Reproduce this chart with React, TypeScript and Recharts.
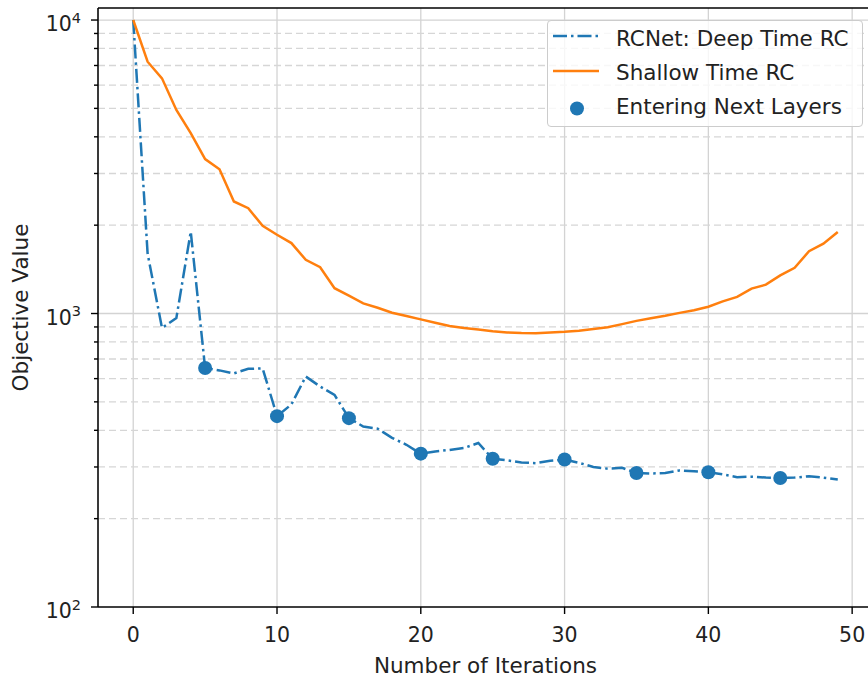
import React from 'react';
import { ComposedChart, Line, Scatter, XAxis, YAxis, CartesianGrid, ReferenceLine, Legend } from 'recharts';

const FONT = '"DejaVu Sans", sans-serif';
const BLUE = '#1f77b4';
const ORANGE = '#ff7f0e';
const TICK_FS = 20.5;
const LABEL_FS = 21.5;
const DASH = '14 4 2.5 4';

const iterations = [
  0, 1, 2, 3, 4, 5, 6, 7, 8, 9, 10, 11, 12, 13, 14, 15, 16, 17, 18, 19, 20, 21, 22, 23, 24,
  25, 26, 27, 28, 29, 30, 31, 32, 33, 34, 35, 36, 37, 38, 39, 40, 41, 42, 43, 44, 45, 46, 47, 48, 49,
];

const deepTimeRC = [
  10000, 1600, 893, 965, 1900, 652, 640, 625, 648, 650, 447, 490, 610, 564, 528, 440, 412, 405, 377, 357,
  333, 339, 343, 348, 362, 320, 316, 311, 309, 315, 318, 310, 300, 296, 298, 286, 285, 286, 292, 290,
  288, 283, 277, 278, 276, 275, 276, 279, 276, 272,
];

const shallowTimeRC = [
  10000, 7210, 6330, 4940, 4120, 3360, 3100, 2408, 2285, 1990, 1855, 1738, 1524, 1438, 1220, 1150, 1083, 1046, 1006, 980,
  955, 930, 907, 892, 882, 870, 862, 858, 857, 862, 866, 874, 885, 898, 920, 944, 964, 982, 1005, 1026,
  1055, 1100, 1139, 1216, 1254, 1349, 1432, 1630, 1730, 1897,
];

const enterIterations = [5, 10, 15, 20, 25, 30, 35, 40, 45];
const enterValues = [652, 447, 440, 333, 320, 318, 286, 288, 275];

const xTicks = [0, 10, 20, 30, 40, 50];
const yMajorTicks = [100, 1000, 10000];
const yMinorTicks = [200, 300, 400, 500, 600, 700, 800, 900, 2000, 3000, 4000, 5000, 6000, 7000, 8000, 9000];

const seriesNames = ['RCNet: Deep Time RC', 'Shallow Time RC', 'Entering Next Layers'];

const data = iterations.map((it, k) => ({ i: it, deep: deepTimeRC[k], shallow: shallowTimeRC[k] }));
const enterData = enterIterations.map((it, k) => ({ i: it, enter: enterValues[k] }));

const YTick = (props: any) => {
  const { x, y, payload } = props;
  const v = payload.value;
  const major = yMajorTicks.includes(v);
  const exp = Math.round(Math.log10(v));
  return (
    <g>
      <line x1={x - (major ? 7 : 4)} x2={x} y1={y} y2={y} stroke="#000" strokeWidth={1.4} />
      {major && (
        <text x={x - 17} y={y + 11} textAnchor="end" fontFamily={FONT} fontSize={TICK_FS} fill="#222">
          <tspan>10</tspan>
          <tspan dy={-8.5} fontSize={14.5}>{exp}</tspan>
        </text>
      )}
    </g>
  );
};

const XTick = (props: any) => {
  const { x, y, payload } = props;
  return (
    <text x={x} y={y + 28} textAnchor="middle" fontFamily={FONT} fontSize={TICK_FS} fill="#222">
      {payload.value}
    </text>
  );
};

const YLabel = (props: any) => {
  const vb = props.viewBox || { x: 8, y: 8, width: 90, height: 599 };
  const cx = vb.x + 20;
  const cy = vb.y + vb.height / 2;
  return (
    <text x={cx} y={cy} transform={`rotate(-90, ${cx}, ${cy})`} textAnchor="middle" fontFamily={FONT} fontSize={LABEL_FS} fill="#222">
      Objective Value
    </text>
  );
};

const XLabel = (props: any) => {
  const vb = props.viewBox || { x: 98, y: 607, width: 775, height: 70 };
  const cx = vb.x + vb.width / 2;
  return (
    <text x={cx} y={vb.y + 66} textAnchor="middle" fontFamily={FONT} fontSize={LABEL_FS} fill="#222">
      Number of Iterations
    </text>
  );
};

const renderLegend = () => (
  <div
    style={{
      width: 316,
      height: 107,
      boxSizing: 'border-box',
      background: 'rgba(255,255,255,0.8)',
      border: '1px solid #cccccc',
      borderRadius: 4,
      position: 'relative',
      fontFamily: FONT,
      fontSize: LABEL_FS,
      color: '#222',
    }}
  >
    <svg width={316} height={107} style={{ position: 'absolute', left: -1, top: -1 }}>
      <line x1={6} x2={52} y1={16} y2={16} stroke={BLUE} strokeWidth={2.5} strokeDasharray={DASH} />
      <line x1={6} x2={52} y1={51} y2={51} stroke={ORANGE} strokeWidth={2.5} />
      <circle cx={30} cy={88.5} r={7} fill={BLUE} />
    </svg>
    {seriesNames.map((name, k) => (
      <span
        key={name}
        style={{ position: 'absolute', left: 68, top: 5 + k * 34.2, lineHeight: '26px', whiteSpace: 'nowrap' }}
      >
        {name}
      </span>
    ))}
  </div>
);

const Dot = (props: any) => <circle cx={props.cx} cy={props.cy} r={7} fill={BLUE} />;

export default function App() {
  return (
    <div style={{ position: 'absolute', left: 0, top: 0, width: 868, height: 677, overflow: 'hidden', background: '#fff' }}>
      <ComposedChart width={874} height={677} data={data} margin={{ top: 8, right: 1, bottom: 0, left: 8 }}>
        <CartesianGrid horizontal={false} vertical stroke="#d3d3d3" strokeWidth={1.3} />
        {yMinorTicks.map((v) => (
          <ReferenceLine key={`m${v}`} y={v} stroke="#d6d6d6" strokeWidth={1.3} strokeDasharray="7 4" />
        ))}
        {yMajorTicks.slice(1).map((v) => (
          <ReferenceLine key={`M${v}`} y={v} stroke="#d3d3d3" strokeWidth={1.3} />
        ))}
        <ReferenceLine y={10990} stroke="#000" strokeWidth={1.5} />
        <XAxis
          dataKey="i"
          type="number"
          domain={[-2.45, 51.45]}
          ticks={xTicks}
          interval={0}
          allowDataOverflow
          height={70}
          tickSize={7}
          tickMargin={0}
          tickLine={{ stroke: '#000', strokeWidth: 1.4 }}
          axisLine={{ stroke: '#000', strokeWidth: 1.5 }}
          tick={<XTick />}
          label={<XLabel />}
        />
        <YAxis
          type="number"
          scale="log"
          domain={[100, 10990]}
          ticks={[...yMajorTicks, ...yMinorTicks]}
          interval={0}
          allowDataOverflow
          width={90}
          tickSize={0}
          tickMargin={0}
          tickLine={false}
          axisLine={{ stroke: '#000', strokeWidth: 1.5 }}
          tick={<YTick />}
          label={<YLabel />}
        />
        <Legend
          layout="vertical"
          align="center"
          verticalAlign="middle"
          content={renderLegend}
          wrapperStyle={{ position: 'absolute', left: 547, top: 20, width: 316, height: 107 }}
        />
        <Line
          name={seriesNames[0]}
          dataKey="deep"
          stroke={BLUE}
          strokeWidth={2.5}
          strokeDasharray={DASH}
          dot={false}
          activeDot={false}
          isAnimationActive={false}
        />
        <Line
          name={seriesNames[1]}
          dataKey="shallow"
          stroke={ORANGE}
          strokeWidth={2.5}
          dot={false}
          activeDot={false}
          isAnimationActive={false}
        />
        <Scatter name={seriesNames[2]} data={enterData} dataKey="enter" fill={BLUE} shape={<Dot />} isAnimationActive={false} />
      </ComposedChart>
    </div>
  );
}
